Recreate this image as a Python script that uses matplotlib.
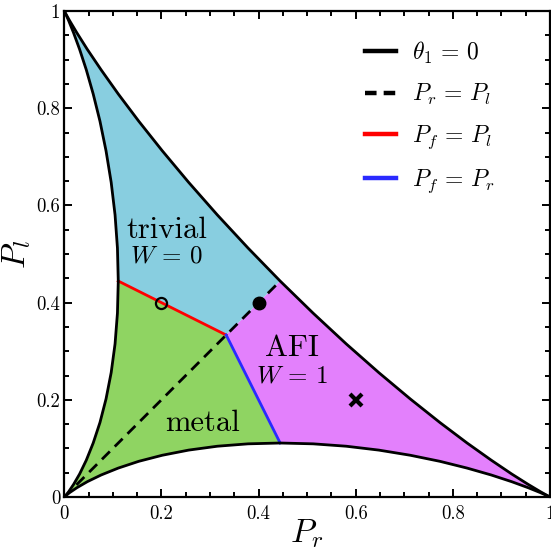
import numpy as np
import matplotlib
matplotlib.use("Agg")
import matplotlib.pyplot as plt
from matplotlib.ticker import MultipleLocator, FixedLocator

plt.rcParams['font.family'] = 'cmr10'
plt.rcParams['mathtext.fontset'] = 'cm'
plt.rcParams['axes.formatter.use_mathtext'] = True

# boundary curves (theta_1 = 0)
upper_pr = [0, 0.0027, 0.0111, 0.0259, 0.0473, 0.0758, 0.1111, 0.1532, 0.2017, 0.2559, 0.3151, 0.3783, 0.4444,
            0.5123, 0.5804, 0.6476, 0.7124, 0.7734, 0.8293, 0.8790, 0.9212, 0.9551, 0.9799, 0.9949, 1]
upper_pl = [1, 0.9949, 0.9799, 0.9551, 0.9212, 0.8790, 0.8293, 0.7734, 0.7124, 0.6476, 0.5804, 0.5123, 0.4444,
            0.3783, 0.3151, 0.2559, 0.2017, 0.1532, 0.1111, 0.0758, 0.0473, 0.0259, 0.0111, 0.0027, 0]

left_pr = [0, 0.0024, 0.0091, 0.0191, 0.0315, 0.0453, 0.0595, 0.0734, 0.0859, 0.0965, 0.1045, 0.1094, 0.1111,
           0.1094, 0.1045, 0.0965, 0.0859, 0.0734, 0.0595, 0.0453, 0.0315, 0.0191, 0.0091, 0.0024, 0]
left_pl = [1, 0.9949, 0.9799, 0.9551, 0.9212, 0.8790, 0.8293, 0.7734, 0.7124, 0.6476, 0.5804, 0.5123, 0.4444,
           0.3783, 0.3151, 0.2559, 0.2017, 0.1532, 0.1111, 0.0758, 0.0473, 0.0259, 0.0111, 0.0027, 0]

lower_pr = [0, 0.0027, 0.0111, 0.0259, 0.0473, 0.0758, 0.1111, 0.1532, 0.2017, 0.2559, 0.3151, 0.3783, 0.4444,
            0.5123, 0.5804, 0.6476, 0.7124, 0.7734, 0.8293, 0.8790, 0.9212, 0.9551, 0.9799, 0.9949, 1]
lower_pl = [0, 0.0024, 0.0091, 0.0191, 0.0315, 0.0453, 0.0595, 0.0734, 0.0859, 0.0965, 0.1045, 0.1094, 0.1111,
            0.1094, 0.1045, 0.0965, 0.0859, 0.0734, 0.0595, 0.0453, 0.0315, 0.0191, 0.0091, 0.0024, 0]

# phase boundaries
diag_pr = [0.025, 0.4444]
diag_pl = [0.025, 0.4444]
red_pr = [0.1111, 0.3333]
red_pl = [0.4444, 0.3333]
blue_pr = [0.3333, 0.4444]
blue_pl = [0.3333, 0.1111]

# marked points
open_pt = (0.2, 0.4)
full_pt = (0.4, 0.4)
cross_pt = (0.6, 0.2)

c_triv = '#88cee0'
c_metal = '#8fd462'
c_afi = '#e380fc'

fig = plt.figure(figsize=(5.51, 5.51), dpi=100)
ax = fig.add_axes([0.1167, 0.098, 0.8815, 0.882])

# regions
triv_x = left_pr[:13] + red_pr[1:] + upper_pr[12::-1]
triv_y = left_pl[:13] + red_pl[1:] + upper_pl[12::-1]
metal_x = left_pr[12:] + lower_pr[1:13] + blue_pr[:1]
metal_y = left_pl[12:] + lower_pl[1:13] + blue_pl[:1]
afi_x = lower_pr[12:] + upper_pr[23:11:-1] + blue_pr[:1]
afi_y = lower_pl[12:] + upper_pl[23:11:-1] + blue_pl[:1]
ax.fill(triv_x, triv_y, color=c_triv, lw=0, zorder=1)
ax.fill(metal_x, metal_y, color=c_metal, lw=0, zorder=1)
ax.fill(afi_x, afi_y, color=c_afi, lw=0, zorder=1)

lw = 2.0
ax.plot(upper_pr, upper_pl, 'k-', lw=lw, zorder=4, label=r'$\theta_1\,=\,0$')
ax.plot(left_pr, left_pl, 'k-', lw=lw, zorder=4)
ax.plot(lower_pr, lower_pl, 'k-', lw=lw, zorder=4)
ax.plot(diag_pr, diag_pl, 'k--', lw=lw, dashes=(4, 2.5), zorder=3, label=r'$P_r\,=\,P_l$')
ax.plot(red_pr, red_pl, '-', color='#ff0000', lw=lw, zorder=3, label=r'$P_f\,=\,P_l$')
ax.plot(blue_pr, blue_pl, '-', color='#2a2aff', lw=lw, zorder=3, label=r'$P_f\,=\,P_r$')

ax.plot([open_pt[0]], [open_pt[1]], 'o', ms=8, mfc='none', mec='k', mew=1.6, zorder=5)
ax.plot([full_pt[0]], [full_pt[1]], 'o', ms=9, mfc='k', mec='k', zorder=5)
ax.plot([cross_pt[0]], [cross_pt[1]], 'x', ms=9, mec='k', mew=3, zorder=5)

ax.text(0.211, 0.549, 'trivial', fontsize=22, ha='center', va='center', zorder=6)
ax.text(0.211, 0.494, r'$W\,=\,0$', fontsize=18, ha='center', va='center', zorder=6)
ax.text(0.468, 0.307, 'AFI', fontsize=22, ha='center', va='center', zorder=6)
ax.text(0.468, 0.249, r'$W\,=\,1$', fontsize=18, ha='center', va='center', zorder=6)
ax.text(0.285, 0.152, 'metal', fontsize=22, ha='center', va='center', zorder=6)

leg = ax.legend(loc='upper left', bbox_to_anchor=(0.575, 0.985), frameon=False, fontsize=17,
                handlelength=1.3, handletextpad=0.7, labelspacing=0.7)
for line in leg.get_lines():
    line.set_linewidth(3.2)
leg.get_lines()[1].set_dashes((2.6, 1.6))

ax.set_xlim(0, 1)
ax.set_ylim(0, 1)
ticks = [0, 0.2, 0.4, 0.6, 0.8, 1]
labels = ['0', '0.2', '0.4', '0.6', '0.8', '1']
ax.xaxis.set_major_locator(FixedLocator(ticks))
ax.yaxis.set_major_locator(FixedLocator(ticks))
ax.set_xticklabels(labels)
ax.set_yticklabels(labels)
ax.xaxis.set_minor_locator(MultipleLocator(0.05))
ax.yaxis.set_minor_locator(MultipleLocator(0.05))
ax.tick_params(which='both', direction='in', top=True, right=True, width=1.4, labelsize=13.5)
ax.tick_params(which='major', length=6)
ax.tick_params(which='minor', length=3.5)
ax.tick_params(axis='x', pad=6)
ax.tick_params(axis='y', pad=3)
for s in ax.spines.values():
    s.set_linewidth(1.6)

ax.set_xlabel(r'$P_r$', fontsize=24, labelpad=-4)
ax.set_ylabel(r'$P_l$', fontsize=24, labelpad=2)

fig.savefig('out.png', dpi=100)
